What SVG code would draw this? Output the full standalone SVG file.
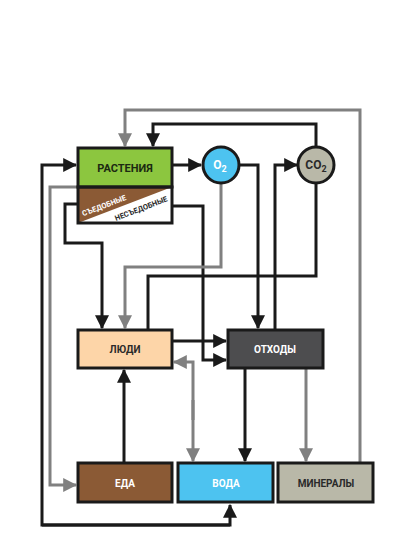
<svg xmlns="http://www.w3.org/2000/svg" width="400" height="533" viewBox="0 0 400 533">
<style>
.box{stroke:#1a1a1a;stroke-width:3}
.k{fill:none;stroke:#1a1a1a;stroke-width:3}
.g{fill:none;stroke:#808080;stroke-width:3}
.ak{marker-end:url(#mk)}
.ag{marker-end:url(#mg)}
.t{font-family:Roboto,"Liberation Sans",sans-serif;font-weight:bold;text-anchor:middle}
</style>
<defs>
<marker id="mk" markerUnits="userSpaceOnUse" markerWidth="14" markerHeight="14" refX="11" refY="6" orient="auto-start-reverse" viewBox="0 0 12 12">
<path d="M0,0 L12,6 L0,12 Z" fill="#1a1a1a"/>
</marker>
<marker id="mg" markerUnits="userSpaceOnUse" markerWidth="14" markerHeight="14" refX="11" refY="6" orient="auto-start-reverse" viewBox="0 0 12 12">
<path d="M0,0 L12,6 L0,12 Z" fill="#808080"/>
</marker>
</defs>
<rect width="400" height="533" fill="#ffffff"/>
<g id="connectors">
<path class="g ag" d="M360,463 V110 H125 V146"/>
<path class="k ak" d="M316,148 V124 H153 V146"/>
<path class="k ak" d="M172,165 H201"/>
<path class="k ak" d="M230,525 H42 V165 H76"/>
<path class="k ak" d="M42,525 H230 V505"/>
<path class="g ag" d="M78,187 H50 V485 H76"/>
<path class="k ak" d="M78,204 H65 V243 H102 V328"/>
<path class="k ak" d="M172,206 H203 V360 H226"/>
<path class="k ak" d="M172,341 H226"/>
<path class="g ag" d="M221,184 V267 H125 V328"/>
<path class="k ak" d="M239,165 H258 V328"/>
<path class="k ak" d="M275,330 V165 H297"/>
<path class="k" d="M316,184 V276 H148 V330"/>
<path class="g ag" d="M193,420 V362 H174"/>
<path class="g ag" d="M193,400 V461"/>
<path class="k ak" d="M124,463 V370"/>
<path class="k ak" d="M245,368 V461"/>
<path class="g ag" d="M306,368 V461"/>
</g>
<g id="plants">
<rect x="78" y="187" width="94" height="36" fill="#ffffff"/>
<polygon points="78,187 172,187 78,223" fill="#8b5a35"/>
<rect class="box" x="78" y="148" width="94" height="39" fill="#8cc63f"/>
<rect class="box" x="78" y="187" width="94" height="36" fill="none"/>
<text class="t" x="125" y="172" font-size="11" fill="#1c2a12">РАСТЕНИЯ</text>
<text class="t" x="105" y="208" font-size="7.5" fill="#ffffff" transform="rotate(-21 105 208)">СЪЕДОБНЫЕ</text>
<text class="t" x="142" y="211" font-size="7.5" fill="#2a2a2a" transform="rotate(-21 142 211)">НЕСЪЕДОБНЫЕ</text>
</g>
<g id="o2">
<circle class="box" cx="221" cy="165" r="18" fill="#4dc3f0"/>
<text class="t" x="220" y="169" font-size="12" fill="#ffffff">O<tspan font-size="9" dy="3">2</tspan></text>
</g>
<g id="co2">
<circle class="box" cx="316" cy="165" r="18" fill="#b9b8a8"/>
<text class="t" x="316" y="169" font-size="12" fill="#2a2a2a">CO<tspan font-size="9" dy="3">2</tspan></text>
</g>
<g id="people">
<rect class="box" x="78" y="330" width="94" height="38" fill="#fdd5a8"/>
<text class="t" x="125" y="353" font-size="10" fill="#2a2a2a">ЛЮДИ</text>
</g>
<g id="waste">
<rect class="box" x="228" y="330" width="95" height="38" fill="#4d4d4f"/>
<text class="t" x="275" y="353" font-size="10" fill="#ffffff">ОТХОДЫ</text>
</g>
<g id="food">
<rect class="box" x="78" y="463" width="94" height="39" fill="#8b5a35"/>
<text class="t" x="125" y="487" font-size="10" fill="#ffffff">ЕДА</text>
</g>
<g id="water">
<rect class="box" x="178" y="463" width="95" height="39" fill="#4dc3f0"/>
<text class="t" x="226" y="487" font-size="10" fill="#ffffff">ВОДА</text>
</g>
<g id="minerals">
<rect class="box" x="278" y="463" width="95" height="39" fill="#b9b8a8"/>
<text class="t" x="326" y="487" font-size="10" fill="#2a2a2a">МИНЕРАЛЫ</text>
</g>
</svg>
